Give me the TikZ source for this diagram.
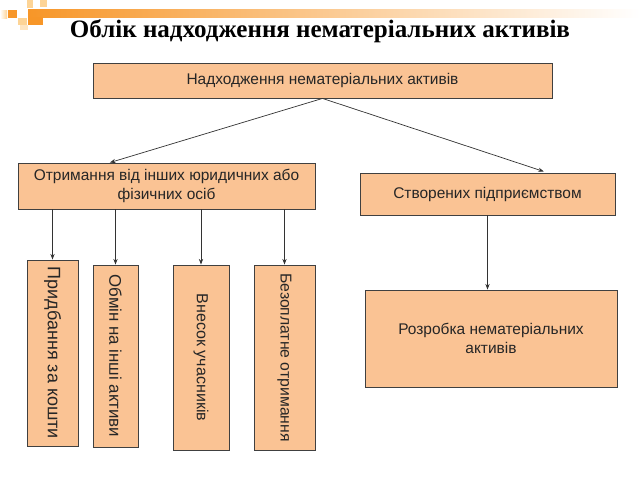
\documentclass[tikz,border=0pt]{standalone}
\usepackage{fontspec}
\setmainfont{Liberation Sans}
\newfontfamily\titlefont{Liberation Serif}
\usetikzlibrary{arrows.meta, calc}

\definecolor{boxfill}{RGB}{250,195,148}
\definecolor{deco}{RGB}{247,150,40}
\definecolor{decopale}{RGB}{253,212,150}

\tikzset{
    box/.style={draw=black!75, line width=0.6pt, fill=boxfill, inner sep=2pt,
        text=black!85, font=\fontsize{11}{14}\selectfont, align=center},
    vbox/.style={box, rotate=-90},
    link/.style={-{Stealth[length=4pt, width=3pt]}, line width=0.5pt, draw=black!80}
}

\begin{document}
\begin{tikzpicture}[x=0.025cm, y=-0.025cm]
    % Page
    \fill[white] (0,0) rectangle (640,480);
    \useasboundingbox (0,0) rectangle (640,480);

    % Corner decoration
    \shade[left color=deco, right color=white] (28,9) rectangle (640,17);
    \fill[deco] (8,10) rectangle (17,18);
    \fill[deco] (28,17) rectangle (43,25);
    \shade[left color=white, right color=decopale] (0,10) rectangle (7,18);
    \fill[decopale] (27,0) rectangle (33,8);
    \fill[decopale] (40,0) rectangle (47,7);
    \fill[decopale] (18,18) rectangle (27,25);
    \fill[decopale!60] (20,25) rectangle (28,30);

    % Title
    \node[font=\titlefont\bfseries\fontsize{17.8}{22}\selectfont] (title) at (320,31)
        {Облік надходження нематеріальних активів};

    % Boxes
    \node[box, minimum width=11.475cm, minimum height=0.875cm] (income) at (322.5,80.5)
        {Надходження нематеріальних активів};
    \node[box, minimum width=7.425cm, minimum height=1.15cm] (obtain) at (166.5,186)
        {Отримання від інших юридичних або\\фізичних осіб};
    \node[box, minimum width=6.375cm, minimum height=1.05cm] (create) at (487.5,194)
        {Створених підприємством};

    \node[vbox, minimum width=4.65cm, minimum height=1.275cm,
        font=\fontsize{12.8}{15}\selectfont] (buy) at (52.5,353)
        {Придбання за кошти};
    \node[vbox, minimum width=4.55cm, minimum height=1.125cm,
        font=\fontsize{12}{15}\selectfont] (swap) at (115.5,356)
        {Обмін на інші активи};
    \node[vbox, minimum width=4.625cm, minimum height=1.4cm,
        font=\fontsize{11.4}{14}\selectfont] (share) at (201,357.5)
        {Внесок учасників};
    \node[vbox, minimum width=4.625cm, minimum height=1.525cm,
        font=\fontsize{11.2}{14}\selectfont] (free) at (284.5,357.5)
        {Безоплатне отримання};

    \node[box, minimum width=6.3cm, minimum height=2.425cm] (develop) at (491,338.5)
        {Розробка нематеріальних\\активів};

    % Connectors
    \draw[link] (income.south) -- ($(obtain.north west)!0.31!(obtain.north east)$);
    \draw[link, shorten >=5\pgflinewidth] (income.south) -- ($(create.north west)!0.733!(create.north east)$);

    \foreach \n in {buy, swap, share, free}
        \draw[link] (\n.west |- obtain.south) -- (\n.west);

    \draw[link] (create.south) -- (create.south |- develop.north);
\end{tikzpicture}
\end{document}
